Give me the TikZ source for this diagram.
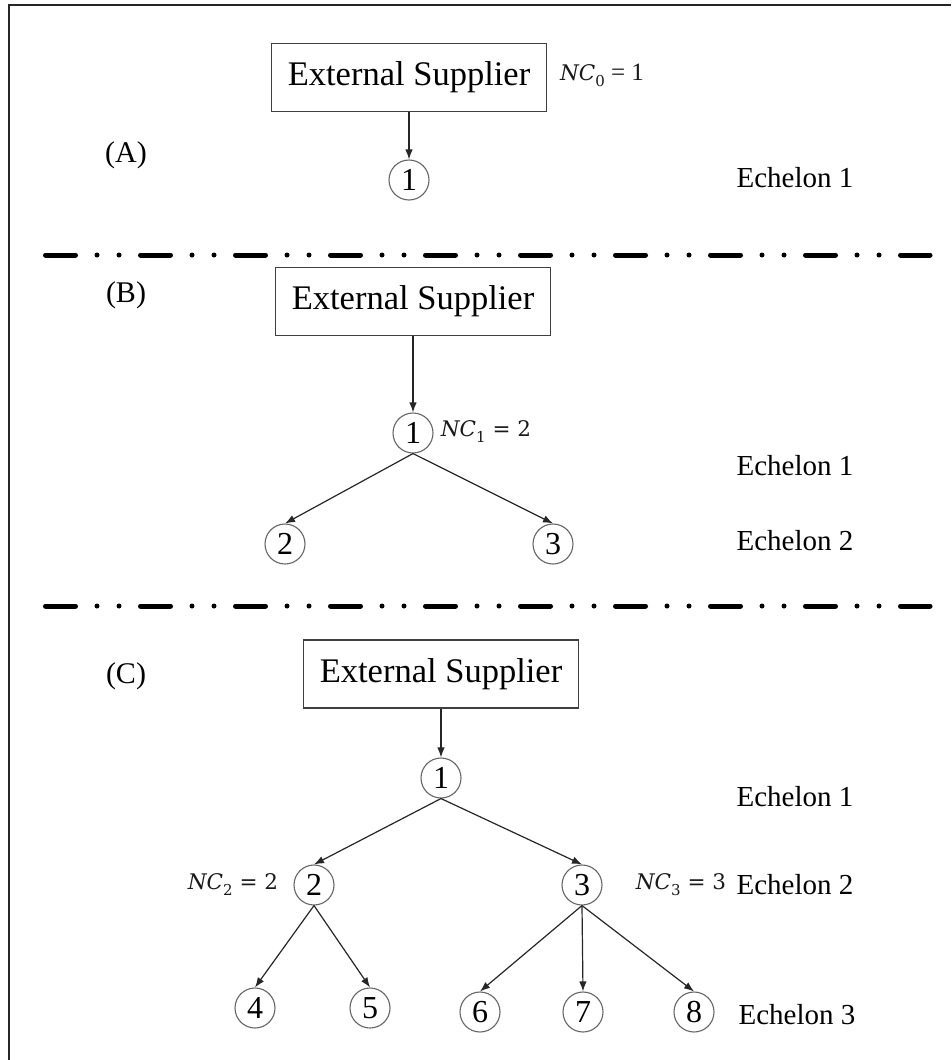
\documentclass[tikz,border=0pt]{standalone}
\usepackage{fontspec}
\setmainfont{Liberation Serif}
\newfontfamily\ncfont{DejaVu Serif}
\usetikzlibrary{arrows.meta}

% count label: italic N C with an upright subscript
\newcommand{\nclab}[2]{{\ncfont\itshape NC}\raisebox{-0.28em}{\ncfont\fontsize{15}{16}\selectfont #1}{\ncfont\ =\ #2}}

\begin{document}
\begin{tikzpicture}[x=1pt,y=-1pt,
  supplier/.style={draw=black!75, line width=1.4pt, minimum width=275pt,
    minimum height=68pt, inner sep=0pt, font=\fontsize{34.5}{40}\selectfont},
  site/.style={circle, draw=black!60, line width=1.1pt, minimum size=40pt,
    inner sep=0pt, font=\fontsize{32}{36}\selectfont},
  feed/.style={-{Latex[length=10pt,width=7.5pt]}, line width=1.2pt, draw=black!85},
  echelon/.style={font=\fontsize{29}{34}\selectfont},
  panel/.style={font=\fontsize{30}{34}\selectfont},
  nclabel/.style={font=\fontsize{21.5}{26}\selectfont, text=black!90},
  divider/.style={line width=5pt, line cap=round,
    dash pattern=on 30pt off 21.5pt on 0pt off 22pt on 0pt off 21.5pt}]

\useasboundingbox (0,0) rectangle (951,1060);
\draw[line width=2pt, black!85] (9,1060) -- (9,5) -- (951,5);

% ---- (A) single echelon
\node[panel] (pA) at (126,155) {(A)};
\node[supplier] (supA) at (409,77.5) {External Supplier};
\node[nclabel] (ncA) at (602,75) {{\ncfont\itshape NC}\raisebox{-0.28em}{\ncfont\fontsize{15}{16}\selectfont 0}\fontsize{25}{28}\selectfont{} = 1};
\node[site] (a1) at (409,180) {1};
\node[echelon] (eA1) at (795,178) {Echelon 1};
\draw[feed] (supA.south) -- (a1.north);

\coordinate (d1s) at (45.5,255);
\coordinate (d1e) at (930,255);
\draw[divider] (d1s) -- (d1e);

% ---- (B) two echelons
\node[panel] (pB) at (126,295) {(B)};
\node[supplier] (supB) at (413,301.5) {External Supplier};
\node[site] (b1) at (413,433) {1};
\node[nclabel] (ncB) at (486,432) {\nclab{1}{2}};
\node[site] (b2) at (285,544) {2};
\node[site] (b3) at (553,544) {3};
\node[echelon] (eB1) at (795,466) {Echelon 1};
\node[echelon] (eB2) at (795,541) {Echelon 2};
\draw[feed] (supB.south) -- (b1.north);
\draw[feed] (b1.south) -- (b2.north);
\draw[feed] (b1.south) -- (b3.north);

\coordinate (d2s) at (45.5,606);
\coordinate (d2e) at (930,606);
\draw[divider] (d2s) -- (d2e);

% ---- (C) three echelons
\node[panel] (pC) at (126,676) {(C)};
\node[supplier] (supC) at (441,674) {External Supplier};
\node[site] (c1) at (441,778) {1};
\node[site] (c2) at (314,885) {2};
\node[site] (c3) at (582,885) {3};
\node[nclabel] (ncC2) at (233,885) {\nclab{2}{2}};
\node[nclabel] (ncC3) at (681,885) {\nclab{3}{3}};
\node[site] (c4) at (255,1008) {4};
\node[site] (c5) at (370,1008) {5};
\node[site] (c6) at (480,1012) {6};
\node[site] (c7) at (583,1012) {7};
\node[site] (c8) at (694,1012) {8};
\node[echelon] (eC1) at (795,797) {Echelon 1};
\node[echelon] (eC2) at (795,885) {Echelon 2};
\node[echelon] (eC3) at (797,1015) {Echelon 3};
\draw[feed] (supC.south) -- (c1.north);
\draw[feed] (c1.south) -- (c2.north);
\draw[feed] (c1.south) -- (c3.north);
\draw[feed] (c2.south) -- (c4.north);
\draw[feed] (c2.south) -- (c5.north);
\draw[feed] (c3.south) -- (c6.north);
\draw[feed] (c3.south) -- (c7.north);
\draw[feed] (c3.south) -- (c8.north);
\end{tikzpicture}
\end{document}
